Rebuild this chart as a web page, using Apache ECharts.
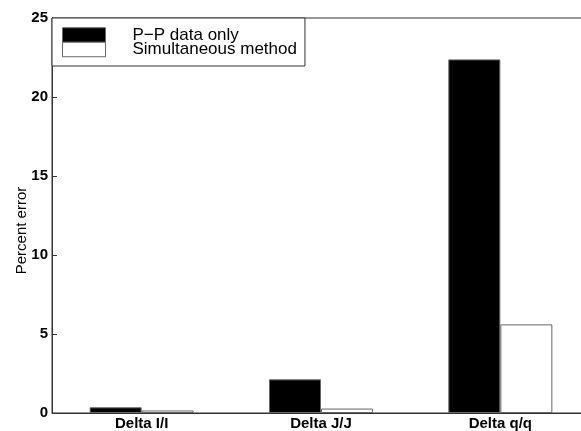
<!DOCTYPE html>
<html><head><meta charset="utf-8">
<script src="https://cdn.jsdelivr.net/npm/echarts@6/dist/echarts.min.js"></script>
<style>html,body{margin:0;padding:0;background:#fff;overflow:hidden}#c{width:591px;height:431px}</style>
</head><body><div id="c"></div>
<script>
const categories = ['Delta I/I', 'Delta J/J', 'Delta q/q'];
const ppData = [0.36, 2.13, 22.38];
const simData = [0.16, 0.28, 5.61];
const seriesNames = ['P\u2212P data only', 'Simultaneous method'];
const yTicks = [0, 5, 10, 15, 20, 25];

const chart = echarts.init(document.getElementById('c'));
chart.setOption({
  animation: false,
  backgroundColor: '#fff',
  textStyle: {fontFamily: 'Liberation Sans, Arial, sans-serif'},
  grid: {left: 52, right: 1, top: 18, bottom: 18, show: true, borderColor: '#333', borderWidth: 1, backgroundColor: 'transparent'},
  legend: {
    orient: 'vertical', left: 52, top: 18, itemGap: -2.5, itemWidth: 43, itemHeight: 14.5,
    padding: [8.5, 8, 8, 10], borderColor: '#333', borderWidth: 1, backgroundColor: '#fff',
    textStyle: {fontSize: 17, color: '#000', padding: [0, 0, 0, 22]},
    data: [
      {name: seriesNames[0], icon: 'rect', itemStyle: {color: '#000', borderColor: '#666', borderWidth: 1}},
      {name: seriesNames[1], icon: 'rect', itemStyle: {color: '#fff', borderColor: '#666', borderWidth: 1}}
    ]
  },
  xAxis: {
    type: 'category', data: categories,
    axisLine: {lineStyle: {color: '#333'}}, axisTick: {show: false},
    axisLabel: {color: '#000', fontSize: 15, fontWeight: 'bold', margin: 3}
  },
  yAxis: {
    type: 'value', min: yTicks[0], max: yTicks[yTicks.length - 1], interval: 5,
    name: 'Percent error', nameLocation: 'middle', nameGap: 23, nameMoveOverlap: false,
    nameTextStyle: {fontSize: 15, color: '#000', padding: [0, 0, 0, -30]},
    axisLine: {show: true, lineStyle: {color: '#333'}},
    axisTick: {show: true, inside: true, length: 5, lineStyle: {color: '#333'}},
    axisLabel: {color: '#000', fontSize: 15, fontWeight: 'bold', margin: 4},
    splitLine: {show: false}
  },
  series: [
    {name: seriesNames[0], type: 'bar', data: ppData, barGap: '0%', barCategoryGap: '42%',
     itemStyle: {color: '#000', borderColor: '#666', borderWidth: 1}},
    {name: seriesNames[1], type: 'bar', data: simData,
     itemStyle: {color: '#fff', borderColor: '#666', borderWidth: 1}}
  ]
});
</script></body></html>
